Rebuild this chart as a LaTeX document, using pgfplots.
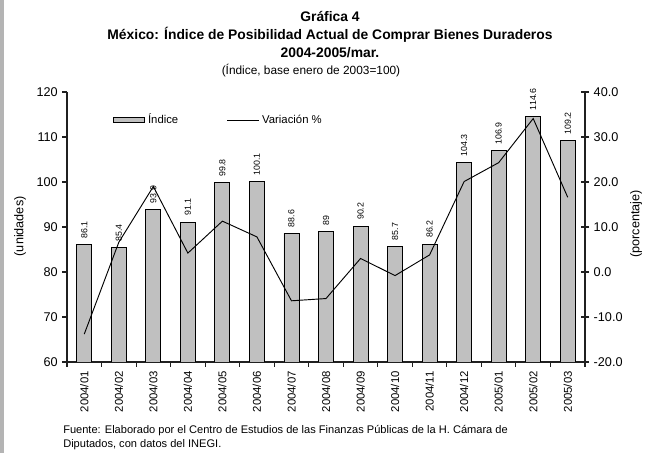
\documentclass[border=0pt]{standalone}
\usepackage{fontspec}
\setmainfont{Liberation Sans}
\usepackage{pgfplots}
\usepackage{pgfplotstable}
\pgfplotsset{compat=1.18}

\definecolor{barfill}{HTML}{C0C0C0}
\definecolor{framegray}{HTML}{B4B4B4}
\definecolor{axisgray}{HTML}{202020}

% x = month index, idx = index value, var = variation in percent
\pgfplotstableread{
x  idx    var
0  86.1  -13.8
1  85.4    6.6
2  93.9   19.0
3  91.1    4.2
4  99.8   11.3
5  100.1   7.8
6  88.6   -6.4
7  89.0   -5.9
8  90.2    3.0
9  85.7   -0.8
10 86.2    3.8
11 104.3  20.1
12 106.9  24.3
13 114.6  34.1
14 109.2  16.6
}\datatable

\pgfplotsset{
  frame geom/.style={
    at={(50.25pt,68.25pt)}, anchor=south west,
    scale only axis, width=388.5pt, height=202.5pt,
    xmin=-0.5, xmax=14.5,
  },
}

\begin{document}
\begin{tikzpicture}
\path[use as bounding box, fill=white] (0,0) rectangle (485.25pt,339.75pt);
\fill[framegray] (0,0) rectangle (3pt,339.75pt);

% --- titles ---
\node[anchor=base, font=\fontsize{10.4}{12}\selectfont\bfseries] at (247.5pt,323.6pt) {Gráfica 4};
\node[anchor=base, font=\fontsize{10.4}{12}\selectfont\bfseries] at (247.5pt,310.1pt) {México: Índice de Posibilidad Actual de Comprar Bienes Duraderos};
\node[anchor=base, font=\fontsize{10.4}{12}\selectfont\bfseries] at (247.5pt,296.6pt) {2004-2005/mar.};
\node[anchor=base, font=\fontsize{8.9}{10.5}\selectfont] at (233.25pt,283.5pt) {(Índice, base enero de 2003=100)};

% --- axis titles ---
\node[rotate=90, font=\fontsize{9.5}{11}\selectfont] at (15pt,170pt) {(unidades)};
\node[rotate=90, font=\fontsize{9.5}{11}\selectfont] at (477pt,171.75pt) {(porcentaje)};

% --- source ---
\node[anchor=base west, font=\fontsize{8.3}{10}\selectfont, inner sep=0pt] at (47.25pt,14.25pt) {Fuente: Elaborado por el Centro de Estudios de las Finanzas Públicas de la H. Cámara de};
\node[anchor=base west, font=\fontsize{8.3}{10}\selectfont, inner sep=0pt] at (47.25pt,4.1pt) {Diputados, con datos del INEGI.};

% --- bars, left axis ---
\begin{axis}[
    frame geom,
    ymin=60, ymax=120,
    axis x line*=bottom,
    axis y line*=left,
    axis line style={-, draw=axisgray, line width=0.9pt},
    tick style={draw=axisgray, line width=0.8pt},
    tick align=outside,
    major tick length=3.4pt,
    ytick={60,70,...,120},
    xtick={-0.5,0.5,...,14.5},
    x tick label as interval,
    xticklabels={2004/01,2004/02,2004/03,2004/04,2004/05,2004/06,2004/07,2004/08,2004/09,2004/10,2004/11,2004/12,2005/01,2005/02,2005/03},
    xticklabel style={rotate=90, anchor=east, font=\fontsize{8.5}{10}\selectfont},
    yticklabel style={font=\fontsize{9.5}{11}\selectfont},
    /pgf/number format/assume math mode=true,
    legend columns=2,
    legend style={
        draw=none, fill=none, inner sep=0pt,
        at={(axis description cs:0.088,0.896)}, anchor=west,
        font=\fontsize{8.5}{10}\selectfont,
        /tikz/every even column/.append style={column sep=34.5pt},
    },
]
\addplot[
    ybar,
    bar width=11.25pt,
    fill=barfill,
    draw=black,
    line width=0.7pt,
    legend image code/.code={\draw[fill=barfill, draw=black, line width=0.7pt] (0pt,-1.65pt) rectangle (23.7pt,1.65pt);}
] table[x=x, y=idx] {\datatable};
\addlegendentry{Índice}
\addlegendimage{legend image code/.code={\draw[black, line width=0.7pt] (0pt,0pt) -- (23.7pt,0pt);}}
\addlegendentry{Variación \%}
\end{axis}

% --- value labels (unclipped) ---
\begin{axis}[
    frame geom,
    ymin=60, ymax=120,
    hide axis,
    clip=false,
]
\addplot[
    draw=none,
    mark=none,
    nodes near coords,
    nodes near coords style={
        rotate=90, anchor=west, text=black,
        font=\fontsize{6.6}{8}\selectfont,
        inner xsep=4.5pt, inner ysep=0pt,
        /pgf/number format/assume math mode=true,
    },
] table[x=x, y=idx] {\datatable};
\end{axis}

% --- variation line, right axis ---
\begin{axis}[
    frame geom,
    ymin=-20, ymax=40,
    axis x line=none,
    axis y line*=right,
    axis line style={-, draw=axisgray, line width=0.9pt},
    tick style={draw=axisgray, line width=0.8pt},
    tick align=center,
    major tick length=6pt,
    ytick={-20,-10,...,40},
    yticklabel style={
        font=\fontsize{9.5}{11}\selectfont,
        /pgf/number format/.cd, fixed, fixed zerofill, precision=1,
    },
    /pgf/number format/assume math mode=true,
]
\addplot[black, line width=0.7pt, mark=none] table[x=x, y=var] {\datatable};
\end{axis}
\end{tikzpicture}
\end{document}
